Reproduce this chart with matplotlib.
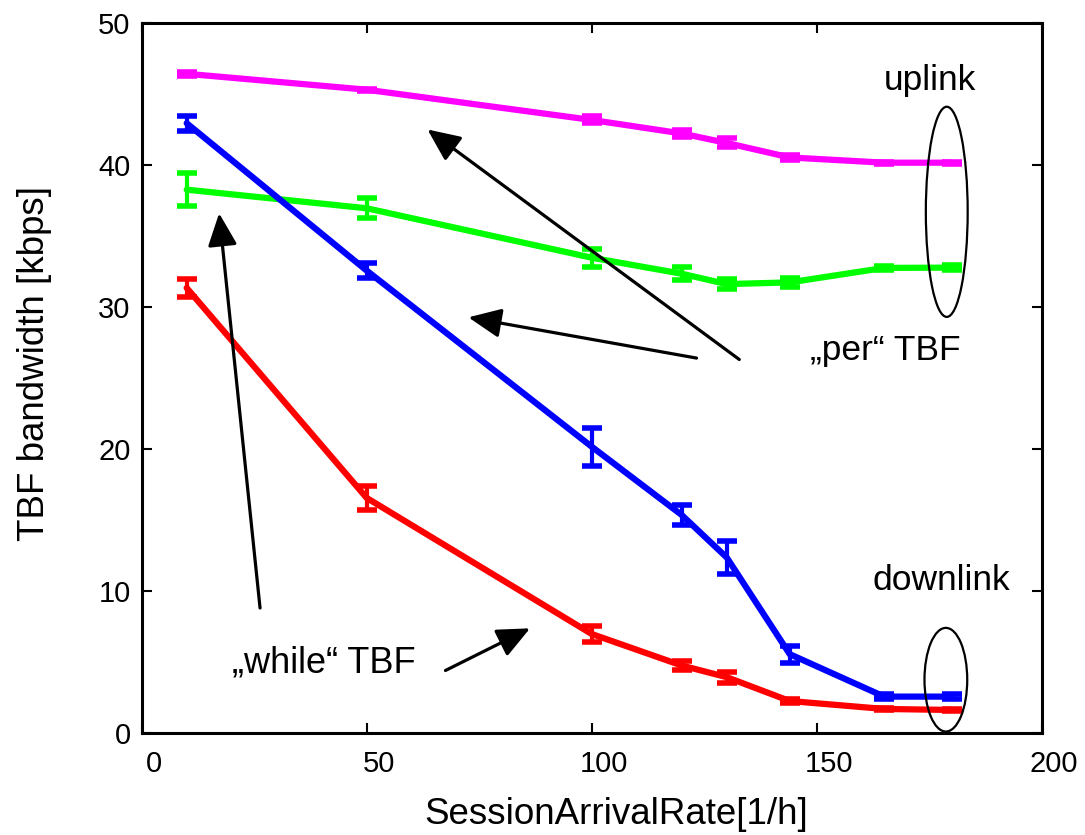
import matplotlib
matplotlib.use("Agg")
import matplotlib.pyplot as plt
from matplotlib.patches import Ellipse, FancyArrowPatch
from matplotlib.transforms import ScaledTranslation

plt.rcParams['font.family'] = ['Liberation Sans', 'DejaVu Sans']
plt.rcParams['xtick.labelsize'] = 21
plt.rcParams['ytick.labelsize'] = 21

# Session arrival rate [1/h]
rate = [10, 50, 100, 120, 130, 144, 165, 180]

# Mean TBF bandwidth [kbps] and confidence half-widths
uplink_per = [46.42, 45.30, 43.17, 42.22, 41.55, 40.53, 40.16, 40.16]
uplink_per_err = [0.14, 0.08, 0.25, 0.24, 0.32, 0.19, 0.06, 0.06]

uplink_while = [38.26, 36.95, 33.47, 32.34, 31.61, 31.73, 32.75, 32.77]
uplink_while_err = [1.14, 0.72, 0.64, 0.45, 0.35, 0.30, 0.15, 0.15]

downlink_per = [42.94, 32.56, 20.16, 15.35, 12.36, 5.55, 2.56, 2.56]
downlink_per_err = [0.53, 0.53, 1.35, 0.69, 1.17, 0.59, 0.17, 0.17]

downlink_while = [31.34, 16.55, 6.97, 4.75, 3.93, 2.25, 1.69, 1.62]
downlink_while_err = [0.62, 0.86, 0.53, 0.33, 0.38, 0.17, 0.05, 0.05]

x_ticks = [0, 50, 100, 150, 200]
y_ticks = [0, 10, 20, 30, 40, 50]

fig = plt.figure(figsize=(10.85, 8.35), dpi=100)
ax = fig.add_axes([0.1306, 0.1222, 0.8295, 0.8503])

series = [
    (uplink_per, uplink_per_err, '#FF00FF'),
    (uplink_while, uplink_while_err, '#00FF00'),
    (downlink_per, downlink_per_err, '#0000FF'),
    (downlink_while, downlink_while_err, '#FF0000'),
]
for vals, errs, col in series:
    ax.errorbar(rate, vals, yerr=errs, color=col, lw=4.5, elinewidth=3,
                capsize=7, capthick=4, solid_capstyle='round',
                zorder=3)

ax.set_xlim(0, 200)
ax.set_ylim(0, 50)
ax.set_xticks(x_ticks)
ax.set_yticks(y_ticks)
ax.tick_params(direction='in', length=7.5, width=1.5, top=True, right=True)
ax.tick_params(axis='x', pad=12)
ax.tick_params(axis='y', pad=8)
for lab in ax.get_xticklabels():
    lab.set_transform(lab.get_transform() + ScaledTranslation(0.12, 0, fig.dpi_scale_trans))
for sp in ax.spines.values():
    sp.set_linewidth(2.2)

ax.set_xlabel('SessionArrivalRate[1/h]', fontsize=26.5)
ax.set_ylabel('TBF bandwidth [kbps]', fontsize=26.5)
ax.xaxis.set_label_coords(0.527, -0.09)
ax.yaxis.set_label_coords(-0.100, 0.52)

# Grouping ellipses
ax.add_patch(Ellipse((178.9, 36.7), 9.3, 14.8, fill=False, ec='black', lw=1.6, zorder=4))
ax.add_patch(Ellipse((178.7, 3.75), 9.5, 7.3, fill=False, ec='black', lw=1.6, zorder=4))

# Text labels
ax.text(175.2, 45.3, 'uplink', fontsize=25.5, ha='center', va='baseline')
ax.text(177.6, 10.07, 'downlink', fontsize=25.5, ha='center', va='baseline')
ax.text(165.2, 26.27, '\u201eper\u201c TBF', fontsize=25.5, ha='center', va='baseline')
ax.text(40.5, 4.25, '\u201ewhile\u201c TBF', fontsize=26, ha='center', va='baseline')

# Pointer arrows
arrows = [
    ((26.3, 8.8), (17.2, 36.6)),
    ((67.5, 4.4), (86.3, 7.37)),
    ((123.3, 26.4), (72.6, 29.27)),
    ((132.8, 26.3), (63.5, 42.5)),
]
for tail, head in arrows:
    ax.add_patch(FancyArrowPatch(tail, head,
                                 arrowstyle='-|>,head_length=1.0,head_width=0.45',
                                 mutation_scale=20, lw=2.3, color='black',
                                 shrinkA=0, shrinkB=0, zorder=5))

fig.savefig('out.png', dpi=100)
